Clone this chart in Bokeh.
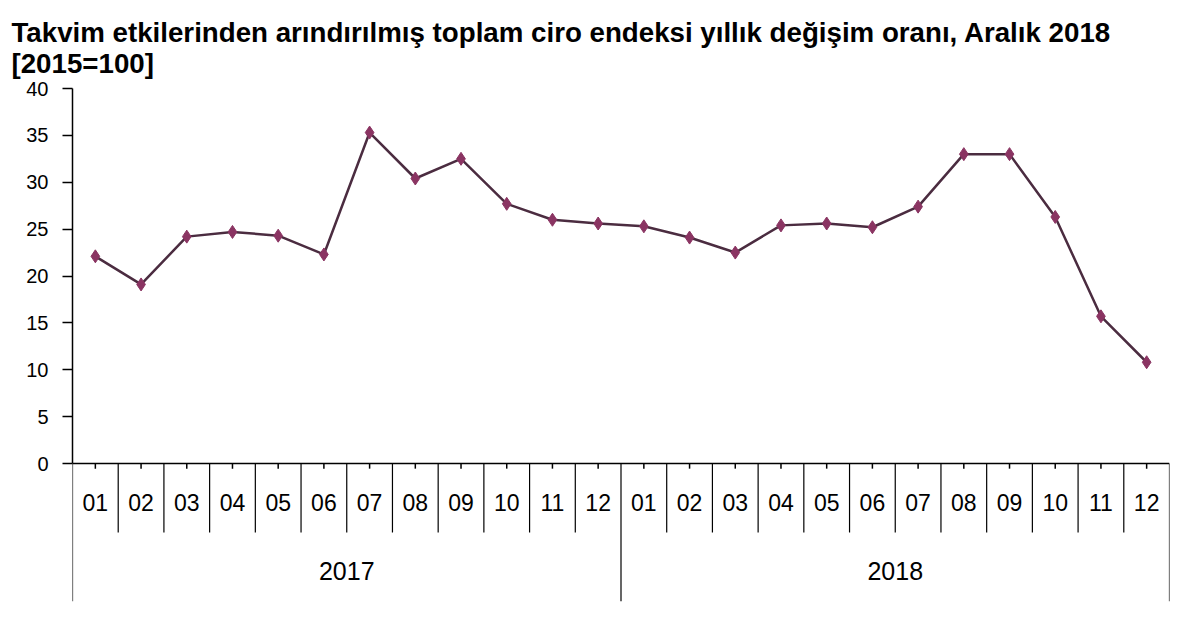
import numpy as np
from bokeh.plotting import figure
from bokeh.embed import file_html
from bokeh.resources import INLINE
from bokeh.models import Range1d, FixedTicker, Span, Title, ColumnDataSource
from bokeh.core.properties import value

# data
years = ["2017", "2018"]
months = ["01", "02", "03", "04", "05", "06", "07", "08", "09", "10", "11", "12"]
values_2017 = [22.1, 19.1, 24.2, 24.7, 24.3, 22.3, 35.3, 30.4, 32.5, 27.7, 26.0, 25.6]
values_2018 = [25.3, 24.1, 22.5, 25.4, 25.6, 25.2, 27.4, 33.0, 33.0, 26.3, 15.7, 10.8]
y_ticks = [0, 5, 10, 15, 20, 25, 30, 35, 40]

title_main = "Takvim etkilerinden arındırılmış toplam ciro endeksi yıllık değişim oranı, Aralık 2018"
title_sub = "[2015=100]"

LINE_COLOR = "#4b2c40"
MARK_COLOR = "#8a3462"
LABEL_FONT = "Liberation Sans"

n = len(years) * len(months)
x = np.arange(n)
y = values_2017 + values_2018

# the category table under the axis is drawn inside the frame, below zero
month_depth = 7.36
year_depth = 14.72

p = figure(
    width=1184,
    height=624,
    x_range=Range1d(-0.5, n - 0.5),
    y_range=Range1d(-year_depth, max(y_ticks)),
    x_axis_type=None,
    output_backend="svg",
    toolbar_location=None,
    min_border_left=72,
    min_border_right=15,
    min_border_top=88,
    min_border_bottom=23,
)
p.outline_line_color = None
p.grid.visible = False
p.background_fill_color = "white"

p.title = Title(
    text=title_main + "\n" + title_sub,
    align="left",
    offset=-61,
    standoff=19,
    text_font="Liberation Sans",
    text_font_size="27.7px",
    text_font_style="bold",
    text_line_height=1.0,
    text_color="black",
)

yax = p.yaxis[0]
yax.bounds = (0, max(y_ticks))
yax.ticker = FixedTicker(ticks=y_ticks)
yax.minor_tick_line_color = None
yax.major_tick_in = 0
yax.major_tick_out = 10
yax.major_tick_line_width = 1.5
yax.axis_line_width = 1.5
yax.axis_line_color = "black"
yax.major_tick_line_color = "black"
yax.major_label_standoff = 14
yax.major_label_text_font = "Liberation Sans"
yax.major_label_text_font_size = "20px"
yax.major_label_text_color = "black"

# horizontal axis line at zero
p.add_layout(Span(location=0, dimension="width", line_color="black", line_width=1.5))

# small tick marks at category centres
p.segment(x0=x, y0=0, x1=x, y1=-0.55, line_color="black", line_width=1.5)

# month separators and year separators
edges = np.arange(n + 1) - 0.5
is_year_edge = (np.arange(n + 1) % len(months)) == 0
p.segment(x0=edges, y0=0, x1=edges, y1=np.where(is_year_edge, -year_depth, -month_depth),
          line_color="black", line_width=1.2)

month_src = ColumnDataSource(dict(x=x, y=np.full(n, -4.16), t=months * len(years)))
p.text(x="x", y="y", text="t", source=month_src, text_align="center", text_baseline="middle",
       text_font=value(LABEL_FONT), text_font_size="23px", text_color="black")

year_x = [len(months) * i + (len(months) - 1) / 2 for i in range(len(years))]
year_src = ColumnDataSource(dict(x=year_x, y=[-11.5] * len(years), t=years))
p.text(x="x", y="y", text="t", source=year_src, text_align="center", text_baseline="middle",
       text_font=value(LABEL_FONT), text_font_size="25px", text_color="black")

p.line(x, y, line_color=LINE_COLOR, line_width=2.5)
p.scatter(x, y, marker="diamond", size=13, fill_color=MARK_COLOR, line_color=MARK_COLOR)

open("out.html", "w").write(file_html(p, INLINE))
